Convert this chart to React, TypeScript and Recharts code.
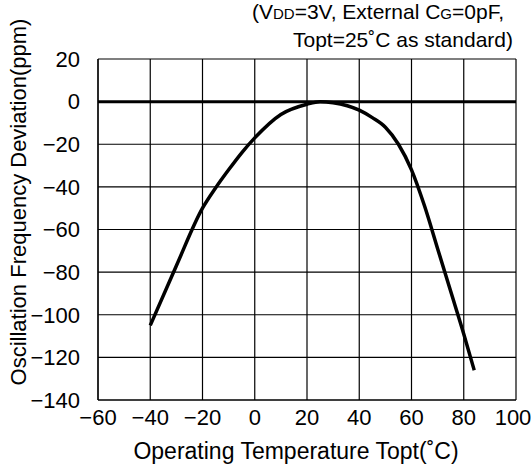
import React from "react";
import { LineChart, Line, XAxis, YAxis, CartesianGrid, ReferenceLine, Label } from "recharts";

const temps = [-40, -30, -20, -15, -10, -5, 0, 10, 20, 25, 30, 40, 45, 50, 55, 60, 65, 70, 75, 80, 84];
const deviation = [-105, -77, -50, -40.5, -32, -24, -17, -6, -1.2, 0, -0.5, -4, -7.5, -12, -20, -32, -49, -69, -89, -109, -126];
const xTicks = [-60, -40, -20, 0, 20, 40, 60, 80, 100];
const yTicks = [20, 0, -20, -40, -60, -80, -100, -120, -140];

const data = temps.map((t, i) => ({ temp: t, dev: deviation[i] }));

const font = "'Liberation Sans', Arial, sans-serif";
const minus = (v: number) => String(v).replace("-", "\u2212");

// last label sits against the right edge in the original, nudge it in
function XTick(props: any) {
  const { x, y, payload } = props;
  const last = payload.value === xTicks[xTicks.length - 1];
  return (
    <text x={last ? x - 3 : x} y={y + 17} textAnchor="middle" fontSize={22} fill="#000" fontFamily={font}>
      {minus(payload.value)}
    </text>
  );
}

export default function App() {
  return (
    <div style={{ position: "absolute", left: 0, top: 0, background: "#fff" }}>
      <LineChart
        width={532}
        height={468}
        data={data}
        margin={{ top: 59, right: 16, bottom: 0, left: 0 }}
        style={{ fontFamily: font }}
      >
        <CartesianGrid stroke="#000" strokeWidth={1.2} horizontalValues={yTicks} verticalValues={xTicks} />
        <XAxis
          dataKey="temp"
          type="number"
          domain={[-60, 100]}
          ticks={xTicks}
          tick={<XTick />}
          tickLine={false}
          axisLine={{ stroke: "#000", strokeWidth: 1.2 }}
          height={68}
          interval={0}
        >
          <Label
            content={() => (
              <text x={296} y={459} textAnchor="middle" fontSize={23} fill="#000" fontFamily={font}>
                Operating Temperature Topt(˚C)
              </text>
            )}
          />
        </XAxis>
        <YAxis
          type="number"
          domain={[-140, 20]}
          ticks={yTicks}
          tickFormatter={minus}
          tickLine={false}
          axisLine={{ stroke: "#000", strokeWidth: 1.2 }}
          tick={{ fill: "#000", fontSize: 22 }}
          tickMargin={12}
          width={98}
          interval={0}
        >
          <Label
            content={() => (
              <text
                x={26}
                y={202}
                textAnchor="middle"
                fontSize={22}
                fill="#000"
                fontFamily={font}
                transform="rotate(-90 26 202)"
              >
                Oscillation Frequency Deviation(ppm)
              </text>
            )}
          />
        </YAxis>
        <ReferenceLine y={0} stroke="#000" strokeWidth={3} />
        <Line
          dataKey="dev"
          type="monotone"
          stroke="#000"
          strokeWidth={3.5}
          dot={false}
          isAnimationActive={false}
        />
        <text x={504} y={19} textAnchor="end" fontSize={21} fill="#000" fontFamily={font}>
          (V<tspan fontSize={15}>DD</tspan>=3V, External C<tspan fontSize={15}>G</tspan>=0pF,
        </text>
        <text x={513} y={47} textAnchor="end" fontSize={21} fill="#000" fontFamily={font}>
          Topt=25˚C as standard)
        </text>
      </LineChart>
    </div>
  );
}
